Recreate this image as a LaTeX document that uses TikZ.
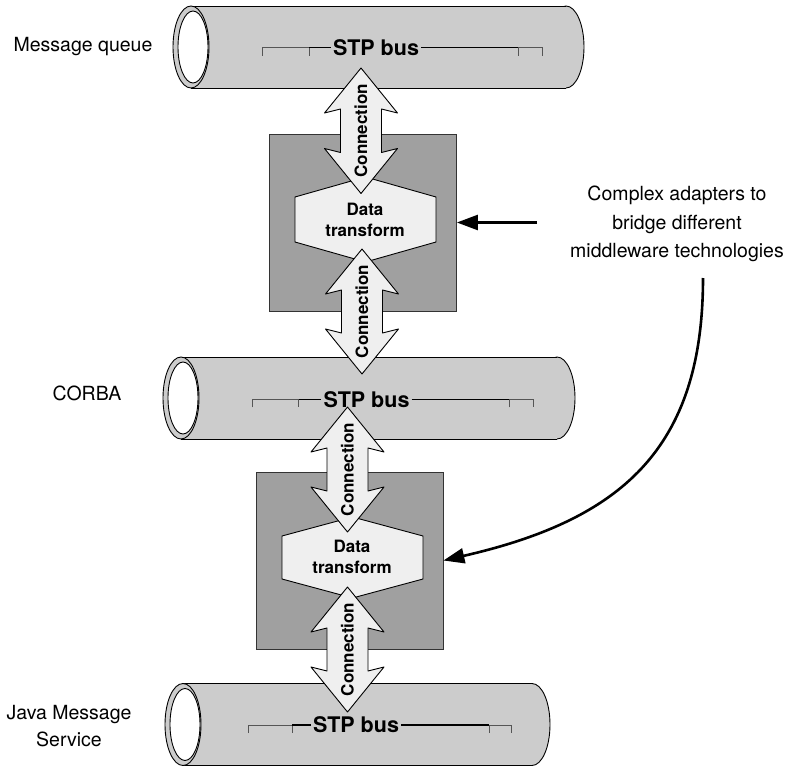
\documentclass[tikz,border=0pt]{standalone}
\usepackage{fontspec}
\setmainfont{TeX Gyre Heros}
\usetikzlibrary{arrows.meta}

\definecolor{tubefill}{HTML}{CCCCCC}
\definecolor{boxfill}{HTML}{A0A0A0}
\definecolor{lightfill}{HTML}{EFEFEF}
\definecolor{tickgray}{HTML}{555555}

% Horizontal bus tube: left cap centre x, right cap centre x, axis y
\newcommand\busTube[3]{%
  \draw[outline,fill=tubefill] (#2,#3) ellipse [x radius=18,y radius=41];
  \fill[tubefill] (#1,#3-41) rectangle (#2,#3+41);
  \draw[outline] (#1,#3-41) -- (#2,#3-41);
  \draw[outline] (#1,#3+41) -- (#2,#3+41);
  \draw[outline,fill=tubefill] (#1,#3) ellipse [x radius=18,y radius=41];
  \draw[outline,fill=white] (#1+2,#3) ellipse [x radius=15,y radius=36];
}

% Bracket rule around a bus label: node, line y, four tick positions
\newcommand\busRule[6]{%
  \draw[tickline] (#3,#2+8) -- (#3,#2) -- (#4,#2) -- (#4,#2+8);
  \draw[mainline] (#4,#2) -- (#1.west);
  \draw[mainline] (#1.east) -- (#5,#2);
  \draw[tickline] (#5,#2+8) -- (#5,#2) -- (#6,#2) -- (#6,#2+8);
}

% Double-headed connection arrow: centre x, top tip y, bottom tip y, name
\newcommand\connArrow[4]{%
  \draw[outline,fill=lightfill]
    (#1,#2) -- (#1+36.5,#2+45) -- (#1+20.5,#2+41) -- (#1+20.5,#3-41)
    -- (#1+36.5,#3-45) -- (#1,#3) -- (#1-36.5,#3-45) -- (#1-20.5,#3-41)
    -- (#1-20.5,#2+41) -- (#1-36.5,#2+45) -- cycle;
  \node[conntext] (#4) at (#1,{(#2+#3)/2}) {Connection};
}

\begin{document}
\begin{tikzpicture}[x=1pt,y=-1pt,
  outline/.style={draw=black,line width=0.9pt,line join=round},
  tickline/.style={draw=tickgray,line width=0.8pt},
  mainline/.style={draw=black,line width=1.1pt},
  adapterbox/.style={draw=black!80,line width=0.8pt,fill=boxfill,
    minimum width=187pt,minimum height=177pt,inner sep=0pt},
  hexfill/.style={outline,fill=lightfill},
  buslabel/.style={font=\fontsize{21.5}{24}\selectfont\bfseries,inner sep=2pt},
  conntext/.style={font=\fontsize{17}{20}\selectfont\bfseries,rotate=90,inner sep=0pt},
  datatext/.style={font=\fontsize{17}{21}\selectfont\bfseries,align=center,inner sep=0pt},
  sidelabel/.style={font=\fontsize{19.5}{27}\selectfont,align=center,inner sep=0pt},
  notearrow/.style={line width=2.6pt,-{Triangle[length=21pt,width=15pt]}}]

\useasboundingbox (0,0) rectangle (788,768);

% bus tubes
\busTube{191}{566}{47}
\busTube{181}{557}{398}
\busTube{183}{532}{724.5}

% adapter boxes
\node[adapterbox] (box1) at (363,222.5) {};
\node[adapterbox] (box2) at (349.5,560.5) {};

% data transform hexagons
\draw[hexfill] (295,197) -- (365.5,177) -- (436,197) -- (436,242)
  -- (365.5,262) -- (295,242) -- cycle;
\draw[hexfill] (282,536) -- (352.5,517) -- (423,536) -- (423,579)
  -- (352.5,598) -- (282,579) -- cycle;
\node[datatext] (dt1) at (365,219.5) {Data\\transform};
\node[datatext] (dt2) at (352,557) {Data\\transform};

% connection arrows
\connArrow{361}{68}{193.5}{conn1}
\connArrow{362}{249}{374}{conn2}
\connArrow{347.5}{407}{532}{conn3}
\connArrow{347.5}{587}{712}{conn4}

% bus labels with bracket rules
\node[buslabel] (bus1) at (376,47.7) {STP bus};
\busRule{bus1}{47.7}{262}{309}{518}{542}
\node[buslabel] (bus2) at (366.5,399.3) {STP bus};
\busRule{bus2}{399.3}{252}{298.5}{509}{533}
\node[buslabel] (bus3) at (356,725) {STP bus};
\busRule{bus3}{725}{248}{292}{489}{511}

% middleware names
\node[sidelabel] (mq) at (83,47) {Message queue};
\node[sidelabel] (corba) at (87,393) {CORBA};
\node[sidelabel] (jms) at (69,726.5) {Java Message\\Service};

% annotation
\node[sidelabel,font=\fontsize{19.5}{28.5}\selectfont] (note) at (677,224)
  {Complex adapters to\\bridge different\\middleware technologies};
\coordinate (notestart) at (537,222.5);
\coordinate (curvestart) at (703,278);
\draw[notearrow] (notestart) -- (box1.east);
\draw[notearrow] (curvestart) .. controls (703,450) and (620,520) .. (box2.east);

\end{tikzpicture}
\end{document}
